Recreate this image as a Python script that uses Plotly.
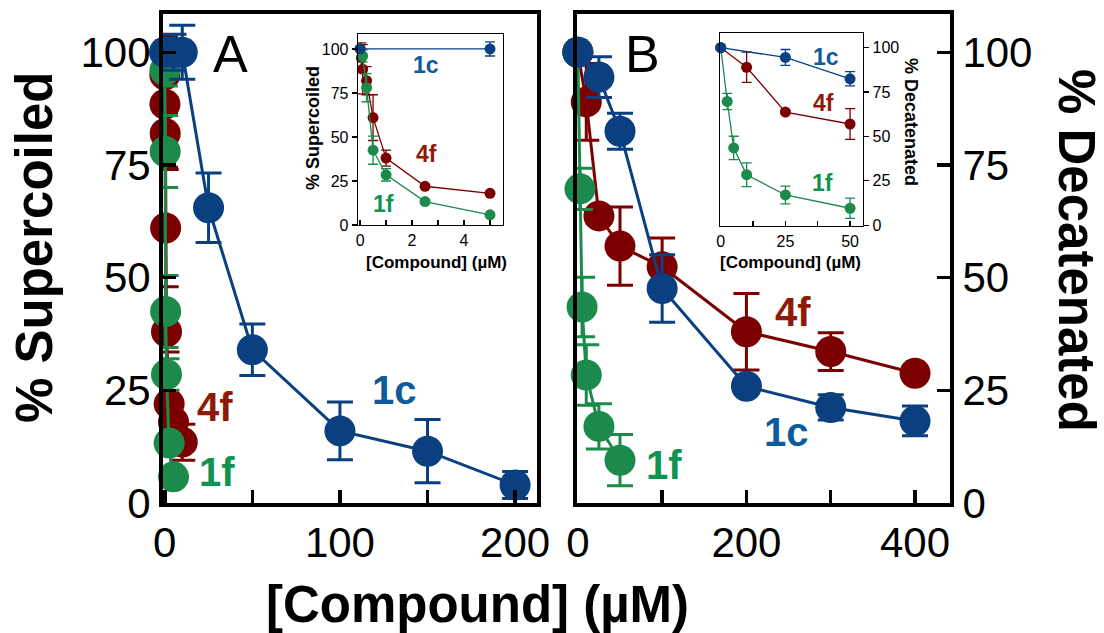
import plotly.graph_objects as go

# ---------------- data ----------------
# Panel A : % Supercoiled
A_1c_x = [0, 5, 10, 25, 50, 100, 150, 200]
A_1c_y = [100, 100, 100, 65.5, 34, 16, 11.5, 4]
A_1c_e = [0, 4, 6, 7.7, 5.7, 6.4, 7, 3]

A_4f_x = [0, 0.05, 0.1, 0.25, 0.5, 1, 2.5, 5, 10]
A_4f_y = [100, 95, 88.5, 82, 61, 38, 22, 18, 13.5]
A_4f_e = [0, 8.5, 14, 8, 13, 4.5, 1, 1, 4]

A_1f_x = [0, 0.1, 0.25, 0.5, 1, 2.5, 5]
A_1f_y = [100, 96, 78, 42.5, 28.5, 13.3, 5.8]
A_1f_e = [0, 3.5, 8, 8, 3.5, 1, 1]

# Panel B : % Decatenated
B_1c_x = [0, 25, 50, 100, 200, 300, 400]
B_1c_y = [100, 94.5, 82.5, 47.6, 25.9, 21.2, 18.2]
B_1c_e = [0, 4.5, 4, 7.5, 1, 2.8, 3.3]

B_4f_x = [0, 10, 25, 50, 100, 200, 300, 400]
B_4f_y = [100, 89, 63.7, 57, 52.4, 38, 33.6, 28.8]
B_4f_e = [0, 8.5, 1, 8.7, 6.4, 8.5, 4.2, 1]

B_1f_x = [0, 2.5, 5, 10, 25, 50]
B_1f_y = [100, 69.7, 43.5, 28.4, 17, 9.5]
B_1f_e = [0, 4.6, 6.6, 6.7, 5, 5.7]

INSET_A_MAX = 5
INSET_B_MAX = 50

# ---------------- style ----------------
W, H = 1104, 633
FONT = "Liberation Sans, Arial, sans-serif"
C_BLUE, C_RED, C_GREEN = "#0a3f80", "#7d0000", "#1b8a4b"
T_BLUE, T_RED, T_GREEN = "#0d5a9c", "#8e1a08", "#0f9350"


def fx(px):
    return px / W


def fy(py):
    return 1 - py / H


def sub(xs, ys, es, xmax):
    keep = [i for i, x in enumerate(xs) if x <= xmax]
    return [xs[i] for i in keep], [ys[i] for i in keep], [es[i] for i in keep]


fig = go.Figure()


def add(xs, ys, es, color, xa, ya, msize, lw, capw):
    fig.add_trace(go.Scatter(
        x=xs, y=ys, mode="lines+markers", xaxis=xa, yaxis=ya,
        line=dict(color=color, width=lw),
        marker=dict(color=color, size=msize),
        error_y=dict(type="data", array=es, visible=True, color=color,
                     thickness=lw, width=capw),
        showlegend=False, cliponaxis=False, hoverinfo="skip"))


# main panels
for xs, ys, es, c in [(A_4f_x, A_4f_y, A_4f_e, C_RED),
                      (A_1f_x, A_1f_y, A_1f_e, C_GREEN),
                      (A_1c_x, A_1c_y, A_1c_e, C_BLUE)]:
    add(xs, ys, es, c, "x", "y", 31, 3, 13)
for xs, ys, es, c in [(B_4f_x, B_4f_y, B_4f_e, C_RED),
                      (B_1f_x, B_1f_y, B_1f_e, C_GREEN),
                      (B_1c_x, B_1c_y, B_1c_e, C_BLUE)]:
    add(xs, ys, es, c, "x2", "y2", 31, 3, 13)
# insets
for xs, ys, es, c in [(A_4f_x, A_4f_y, A_4f_e, C_RED),
                      (A_1f_x, A_1f_y, A_1f_e, C_GREEN),
                      (A_1c_x, A_1c_y, A_1c_e, C_BLUE)]:
    sx, sy, se = sub(xs, ys, es, INSET_A_MAX)
    add(sx, sy, se, c, "x3", "y3", 11, 1.3, 5)
for xs, ys, es, c in [(B_4f_x, B_4f_y, B_4f_e, C_RED),
                      (B_1f_x, B_1f_y, B_1f_e, C_GREEN),
                      (B_1c_x, B_1c_y, B_1c_e, C_BLUE)]:
    sx, sy, se = sub(xs, ys, es, INSET_B_MAX)
    add(sx, sy, se, c, "x4", "y4", 11, 1.3, 5)

main_ax = dict(showline=True, linewidth=4, linecolor="black", mirror=True,
               showgrid=False, zeroline=False, ticks="inside", ticklen=13,
               tickwidth=3.5, tickcolor="black", automargin=False,
               tickfont=dict(family=FONT, size=42, color="black"))
ins_ax = dict(showline=True, linewidth=1.3, linecolor="black", mirror=True,
              showgrid=False, zeroline=False, ticklen=5, tickwidth=1.2,
              tickcolor="black", automargin=False,
              tickfont=dict(family=FONT, size=16, color="black"))

MAIN_Y = [fy(503), fy(14)]

fig.update_layout(
    width=W, height=H, margin=dict(l=0, r=0, t=0, b=0, autoexpand=False),
    paper_bgcolor="white", plot_bgcolor="rgba(0,0,0,0)",
    xaxis=dict(**main_ax, domain=[fx(163), fx(537)], range=[-1, 212.5],
               anchor="y", dtick=100,
               minor=dict(dtick=50, ticks="inside", ticklen=13, tickwidth=3.5,
                          tickcolor="black", showgrid=False)),
    yaxis=dict(**main_ax, domain=MAIN_Y, range=[0, 108.5], anchor="x",
               dtick=25),
    xaxis2=dict(**main_ax, domain=[fx(577), fx(950)], range=[-1, 441.5],
                anchor="y2", dtick=200,
                minor=dict(dtick=100, ticks="inside", ticklen=13, tickwidth=3.5,
                           tickcolor="black", showgrid=False)),
    yaxis2=dict(**main_ax, domain=MAIN_Y, range=[0, 108.5], anchor="x2",
                side="right", dtick=25),
    xaxis3=dict(**ins_ax, domain=[fx(358), fx(503)], range=[-0.08, 5.5],
                anchor="y3", dtick=2, ticks="inside",
                minor=dict(dtick=1, ticks="inside", ticklen=5, tickwidth=1.2,
                           tickcolor="black", showgrid=False)),
    yaxis3=dict(**ins_ax, domain=[fy(225), fy(34)], range=[0, 108.5],
                anchor="x3", dtick=25, ticks="outside"),
    xaxis4=dict(**ins_ax, domain=[fx(720), fx(863)], range=[-0.3, 55],
                anchor="y4", dtick=25, ticks="inside",
                minor=dict(dtick=12.5, ticks="inside", ticklen=5, tickwidth=1.2,
                           tickcolor="black", showgrid=False)),
    yaxis4=dict(**ins_ax, domain=[fy(226), fy(33)], range=[-0.5, 108.3],
                anchor="x4", side="right", dtick=25, ticks="outside"),
)

ann = []


def txt(s, px, py, size, color="black", bold=True, angle=0, family=FONT):
    ann.append(dict(text=f"<b>{s}</b>" if bold else s, x=fx(px), y=fy(py),
                    xref="paper", yref="paper", xanchor="center",
                    yanchor="middle", showarrow=False, textangle=angle,
                    font=dict(family=family, size=size, color=color)))


# axis titles
txt("% Supercoiled", 34, 248, 51, angle=-90)
txt("% Decatenated", 1077, 250, 51, angle=90)
txt("[Compound] (µM)", 477, 604, 51)
# panel letters
txt("A", 230, 54, 52, bold=False)
txt("B", 642, 54, 52, bold=False)
# main labels
txt("4f", 215, 407, 40, T_RED)
txt("1f", 217, 472, 40, T_GREEN)
txt("1c", 394, 390, 40, T_BLUE)
txt("4f", 793, 312, 40, T_RED)
txt("1c", 786, 432, 40, T_BLUE)
txt("1f", 664, 465, 40, T_GREEN)
# inset labels
txt("1c", 426, 65, 23, T_BLUE)
txt("4f", 426, 154, 23, T_RED)
txt("1f", 383, 204, 23, T_GREEN)
txt("1c", 826, 57, 23, T_BLUE)
txt("4f", 823, 103, 23, T_RED)
txt("1f", 822, 183, 23, T_GREEN)
# inset axis titles
txt("% Supercoiled", 313, 128, 18, angle=-90)
txt("[Compound] (µM)", 436, 262, 17)
txt("[Compound] (µM)", 790, 262, 17)
txt("% Decatenated", 911, 122, 18, angle=90)

fig.update_layout(annotations=ann)
fig.write_html("out.html",
               config={"displayModeBar": False, "staticPlot": True},
               post_script="document.body.style.margin='0px';"
                           "document.body.style.overflow='hidden';")
